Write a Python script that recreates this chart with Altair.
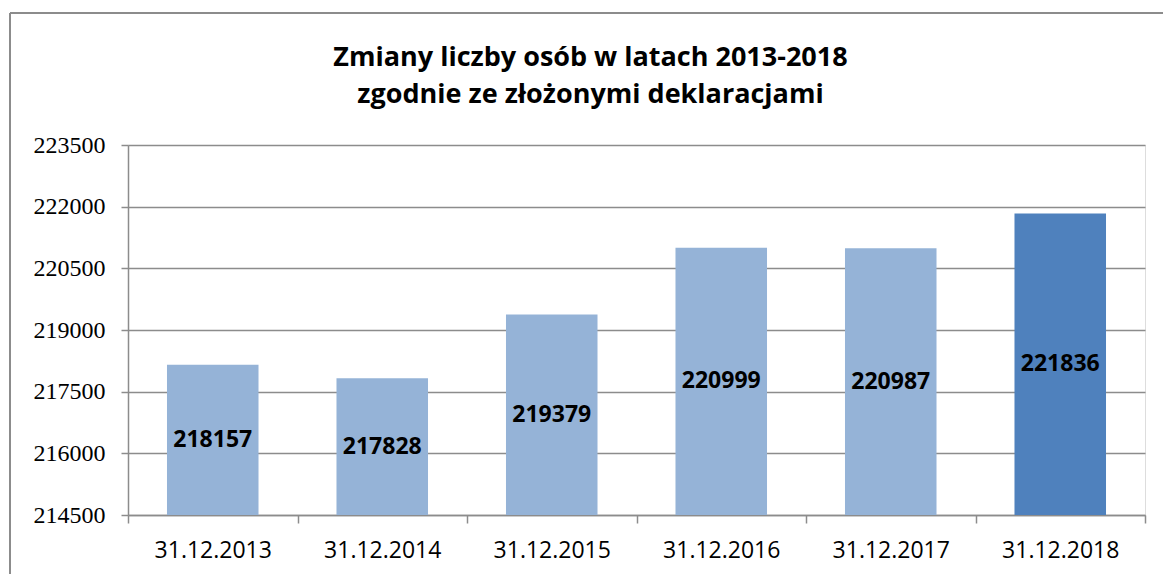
import altair as alt
import pandas as pd

categories = ["31.12.2013", "31.12.2014", "31.12.2015", "31.12.2016", "31.12.2017", "31.12.2018"]
values = [218157, 217828, 219379, 220999, 220987, 221836]
highlight = [0, 0, 0, 0, 0, 1]
y_ticks = [214500, 216000, 217500, 219000, 220500, 222000, 223500]

df = pd.DataFrame({"cat": categories, "val": values, "hl": highlight})
df["base"] = 214500

W, H = 1017, 370

x_enc = alt.X("cat:N", sort=categories, title=None,
              scale=alt.Scale(paddingInner=0, paddingOuter=0),
              axis=alt.Axis(labelAngle=0, labelFont="Open Sans", labelFontSize=23,
                            labelColor="#000000", labelPadding=16, tickBand="extent",
                            tickSize=8, tickColor="#8c8c8c", domainColor="#8c8c8c",
                            domainWidth=1.5, tickWidth=1.5, grid=False))

bars = alt.Chart(df).mark_bar(width=alt.RelativeBandSize(0.54)).encode(
    x=x_enc,
    y=alt.Y("val:Q", title=None,
            scale=alt.Scale(domain=[214500, 223500], nice=False, zero=False),
            axis=alt.Axis(values=y_ticks, format="d", labelFont="Liberation Serif",
                          labelFontSize=24, labelColor="#000000", labelPadding=16,
                          tickSize=7, tickColor="#8c8c8c", domainColor="#8c8c8c",
                          domainWidth=1.5, tickWidth=1.5, grid=True,
                          gridColor="#8c8c8c", gridWidth=1.5)),
    y2="base:Q",
    color=alt.Color("hl:N", scale=alt.Scale(domain=[0, 1], range=["#95B3D7", "#4F81BD"]),
                    legend=None),
)

labels = alt.Chart(df).transform_calculate(
    mid="(datum.val + 214500) / 2"
).mark_text(font="Open Sans", fontSize=23, fontWeight="bold", color="#000000",
            baseline="middle", align="center").encode(
    x=alt.X("cat:N", sort=categories),
    y=alt.Y("mid:Q"),
    text=alt.Text("val:Q", format="d"),
)

border = alt.Chart(df).mark_rule(color="#8c8c8c", strokeWidth=1.5, clip=False).encode(
    x=alt.value(-118), y=alt.value(-132), y2=alt.value(H + 100)
)
border_top = alt.Chart(df).mark_rule(color="#8c8c8c", strokeWidth=1.5, clip=False).encode(
    x=alt.value(-118), x2=alt.value(W + 100), y=alt.value(-132)
)

chart = alt.layer(bars, labels, border, border_top).properties(
    width=W, height=H,
    title=alt.TitleParams(
        text=["Zmiany liczby osób w latach 2013-2018", "zgodnie ze złożonymi deklaracjami"],
        font="Open Sans", fontSize=27, fontWeight="bold", color="#000000",
        anchor="middle", dx=-46, dy=124, lineHeight=37, offset=0, baseline="bottom"),
    autosize=alt.AutoSizeParams(type="none"),
    padding={"left": 128, "top": 145, "right": 18, "bottom": 59},
).configure_view(stroke=None).configure(background="#ffffff")

chart.save("out.html", embed_options={"renderer": "svg", "actions": False})
